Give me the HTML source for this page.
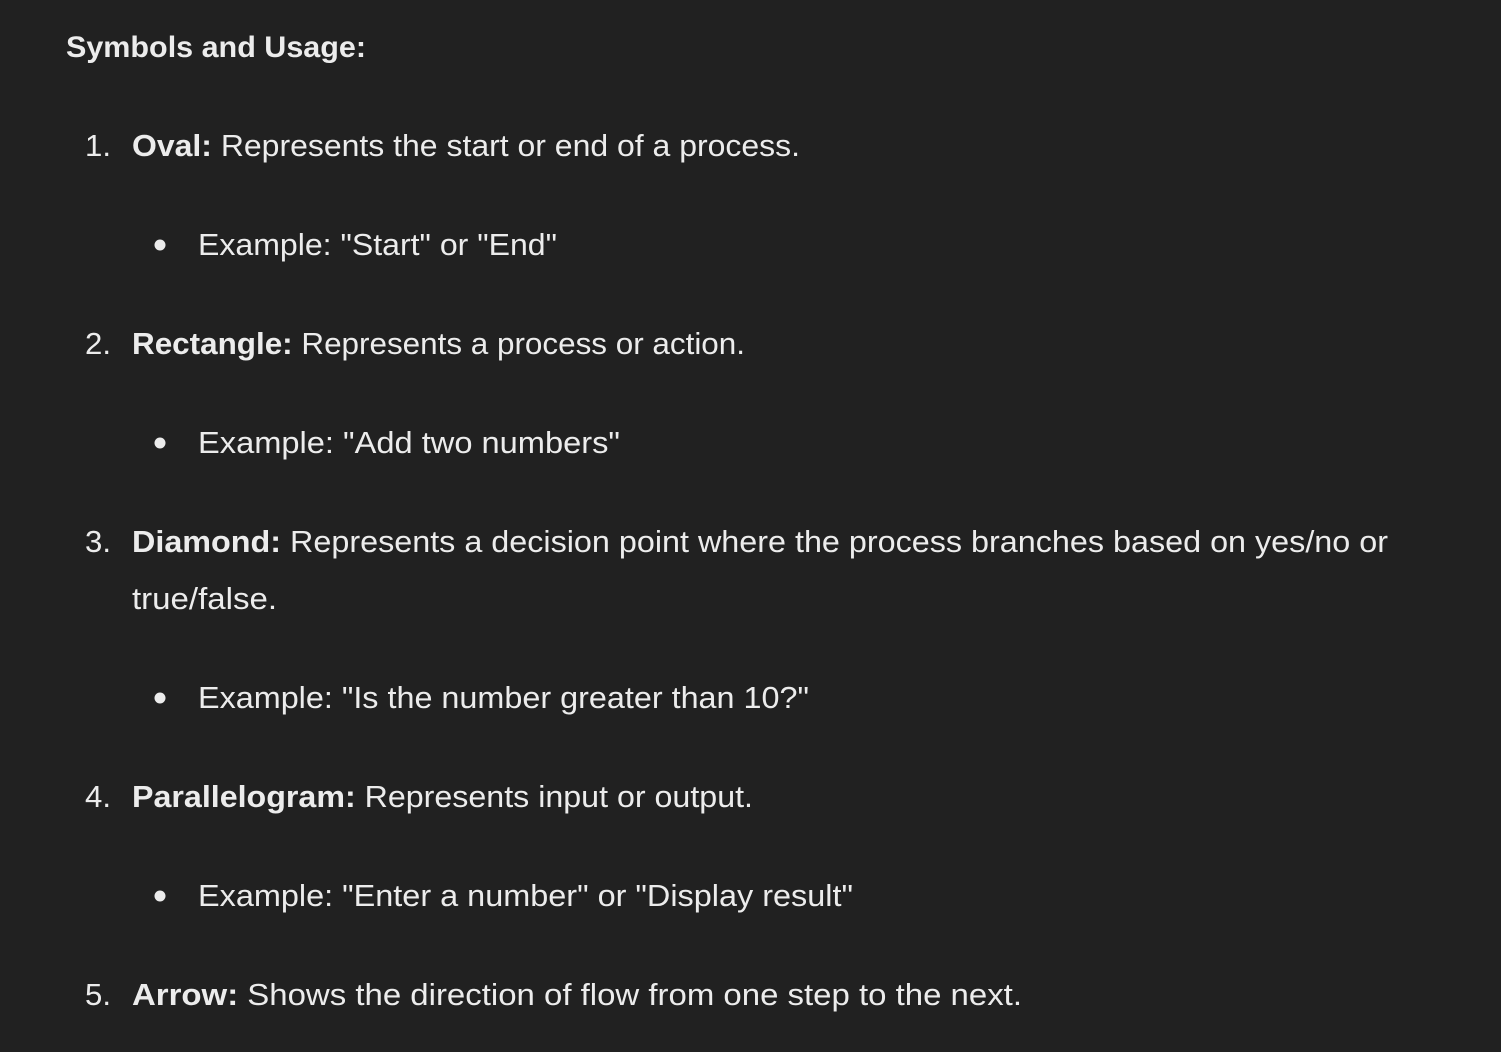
<!DOCTYPE html>
<html><head><meta charset="utf-8"><style>
html,body{margin:0;padding:0;background:#212121;}
svg{display:block}
text{font-family:"Liberation Sans",Arial,sans-serif;fill:#ececec;font-size:31px}
.b{font-weight:bold}
</style></head><body>
<svg width="1501" height="1052" viewBox="0 0 1501 1052" xmlns="http://www.w3.org/2000/svg">
<rect width="1501" height="1052" fill="#212121"/>
<text x="66" y="57" class="b" textLength="300" lengthAdjust="spacingAndGlyphs" style="font-size:30px">Symbols and Usage:</text>

<text x="85" y="156" textLength="26" lengthAdjust="spacingAndGlyphs">1.</text>
<text x="132" y="156" textLength="668" lengthAdjust="spacingAndGlyphs"><tspan class="b">Oval:</tspan> Represents the start or end of a process.</text>
<circle cx="160" cy="245" r="5.5" fill="#ececec"/>
<text x="198" y="255" textLength="359" lengthAdjust="spacingAndGlyphs">Example: "Start" or "End"</text>

<text x="85" y="354" textLength="26" lengthAdjust="spacingAndGlyphs">2.</text>
<text x="132" y="354" textLength="613" lengthAdjust="spacingAndGlyphs"><tspan class="b">Rectangle:</tspan> Represents a process or action.</text>
<circle cx="160" cy="443" r="5.5" fill="#ececec"/>
<text x="198" y="453" textLength="422" lengthAdjust="spacingAndGlyphs">Example: "Add two numbers"</text>

<text x="85" y="552" textLength="26" lengthAdjust="spacingAndGlyphs">3.</text>
<text x="132" y="552" textLength="1256" lengthAdjust="spacingAndGlyphs"><tspan class="b">Diamond:</tspan> Represents a decision point where the process branches based on yes/no or</text>
<text x="132" y="609" textLength="145" lengthAdjust="spacingAndGlyphs">true/false.</text>
<circle cx="160" cy="698" r="5.5" fill="#ececec"/>
<text x="198" y="708" textLength="611" lengthAdjust="spacingAndGlyphs">Example: "Is the number greater than 10?"</text>

<text x="85" y="807" textLength="26" lengthAdjust="spacingAndGlyphs">4.</text>
<text x="132" y="807" textLength="621" lengthAdjust="spacingAndGlyphs"><tspan class="b">Parallelogram:</tspan> Represents input or output.</text>
<circle cx="160" cy="896" r="5.5" fill="#ececec"/>
<text x="198" y="906" textLength="655" lengthAdjust="spacingAndGlyphs">Example: "Enter a number" or "Display result"</text>

<text x="85" y="1005" textLength="26" lengthAdjust="spacingAndGlyphs">5.</text>
<text x="132" y="1005" textLength="890" lengthAdjust="spacingAndGlyphs"><tspan class="b">Arrow:</tspan> Shows the direction of flow from one step to the next.</text>
</svg>
</body></html>
